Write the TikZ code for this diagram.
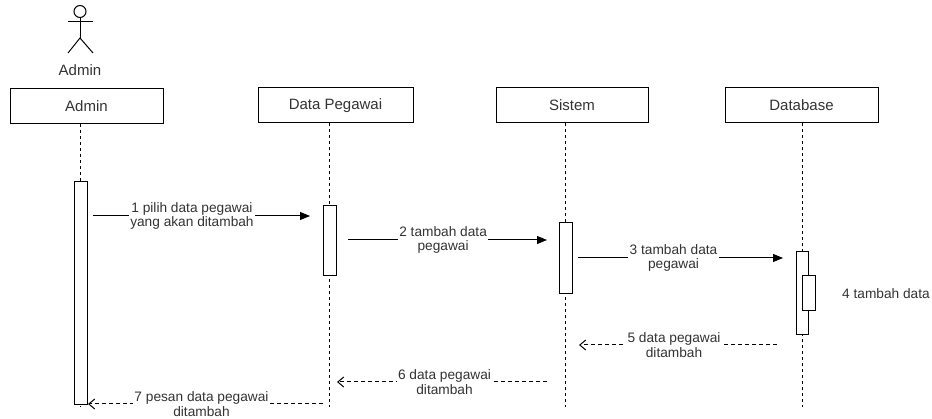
\documentclass[tikz,border=0pt]{standalone}
\usepackage{fontspec}
\setmainfont{Liberation Sans}
\usetikzlibrary{arrows.meta}
\definecolor{txt}{HTML}{333333}
\tikzset{
  lbox/.style={draw=black, line width=1pt, fill=white, minimum width=153pt, minimum height=35pt, inner sep=0pt, text=txt, font=\fontsize{15}{18}\selectfont},
  actbar/.style={draw=black, line width=1pt, fill=white, minimum width=13pt, inner sep=0pt},
  lifeline/.style={draw=black, line width=0.9pt, dash pattern=on 3pt off 3pt},
  syncmsg/.style={draw=black, line width=1pt, -{Triangle[length=10pt,width=8pt]}},
  retmsg/.style={draw=black, line width=1pt, dash pattern=on 4pt off 3pt, -{Straight Barb[length=6pt,width=10pt]}},
  lbl/.style={fill=white, text=txt, inner sep=1.5pt, align=center, font=\fontsize{13.7}{14.5}\selectfont},
  actorline/.style={draw=black, line width=1pt}
}
\begin{document}
\begin{tikzpicture}[x=1pt,y=-1pt]
\useasboundingbox (0,0) rectangle (932,419);
% actor
\node[draw=black, line width=1pt, circle, minimum size=12pt, inner sep=0pt] (head) at (80,11.5) {};
\coordinate (hip) at (80,38);
\coordinate (armL) at (68,22);
\coordinate (armR) at (93,22);
\coordinate (legL) at (68,53);
\coordinate (legR) at (93,53);
\draw[actorline] (head.south) -- (hip);
\draw[actorline] (armL) -- (armR);
\draw[actorline] (legL) -- (hip) -- (legR);
\node[text=txt, font=\fontsize{15}{18}\selectfont] (actorlbl) at (80,70) {Admin};
% lifeline heads
\node[lbox] (admin) at (86.5,106.5) {Admin};
\node[lbox, minimum width=155pt] (dp) at (335.5,105.5) {Data Pegawai};
\node[lbox, minimum width=152pt] (sis) at (572,105.5) {Sistem};
\node[lbox] (db) at (801.5,105.5) {Database};
% lifeline ends
\coordinate (adminEnd) at (80,407);
\coordinate (dpEnd) at (329,407);
\coordinate (sisEnd) at (565,407);
\coordinate (dbEnd) at (802,407);
\draw[lifeline] (admin.south -| adminEnd) -- (adminEnd);
\draw[lifeline] (dp.south -| dpEnd) -- (dpEnd);
\draw[lifeline] (sis.south -| sisEnd) -- (sisEnd);
\draw[lifeline] (db.south -| dbEnd) -- (dbEnd);
% activation bars
\node[actbar, minimum height=223pt] (adminBar) at (80.5,293.5) {};
\node[actbar, minimum height=70pt] (dpBar) at (329.5,241) {};
\node[actbar, minimum height=71pt] (sisBar) at (565.5,258.5) {};
\node[actbar, minimum height=83pt, minimum width=12pt] (dbBar) at (802,293.5) {};
\node[actbar, minimum height=35pt] (dbBar2) at (808.5,293.5) {};
% message end points
\coordinate (m1s) at (93,216);   \coordinate (m1e) at (310,216);
\coordinate (m2s) at (348,240);  \coordinate (m2e) at (547,240);
\coordinate (m3s) at (578,258);  \coordinate (m3e) at (783,258);
\coordinate (m5s) at (777,345);  \coordinate (m5e) at (579,345);
\coordinate (m6s) at (547,382);  \coordinate (m6e) at (337,382);
\coordinate (m7s) at (323,404);  \coordinate (m7e) at (88,404);
% messages
\draw[syncmsg] (m1s) -- node[lbl, pos=0.456] (l1) {1 pilih data pegawai\\yang akan ditambah} (m1e);
\draw[syncmsg] (m2s) -- node[lbl, pos=0.478] (l2) {2 tambah data\\pegawai} (m2e);
\draw[syncmsg] (m3s) -- node[lbl, pos=0.466] (l3) {3 tambah data\\pegawai} (m3e);
\node[text=txt, font=\fontsize{13.7}{14.5}\selectfont] (l4) at (886,294) {4 tambah data};
\draw[retmsg] (m5s) -- node[lbl, pos=0.52] (l5) {5 data pegawai\\ditambah} (m5e);
\draw[retmsg] (m6s) -- node[lbl, pos=0.488] (l6) {6 data pegawai\\ditambah} (m6e);
\draw[retmsg] (m7s) -- node[lbl, pos=0.517] (l7) {7 pesan data pegawai\\ditambah} (m7e);
\end{tikzpicture}
\end{document}
